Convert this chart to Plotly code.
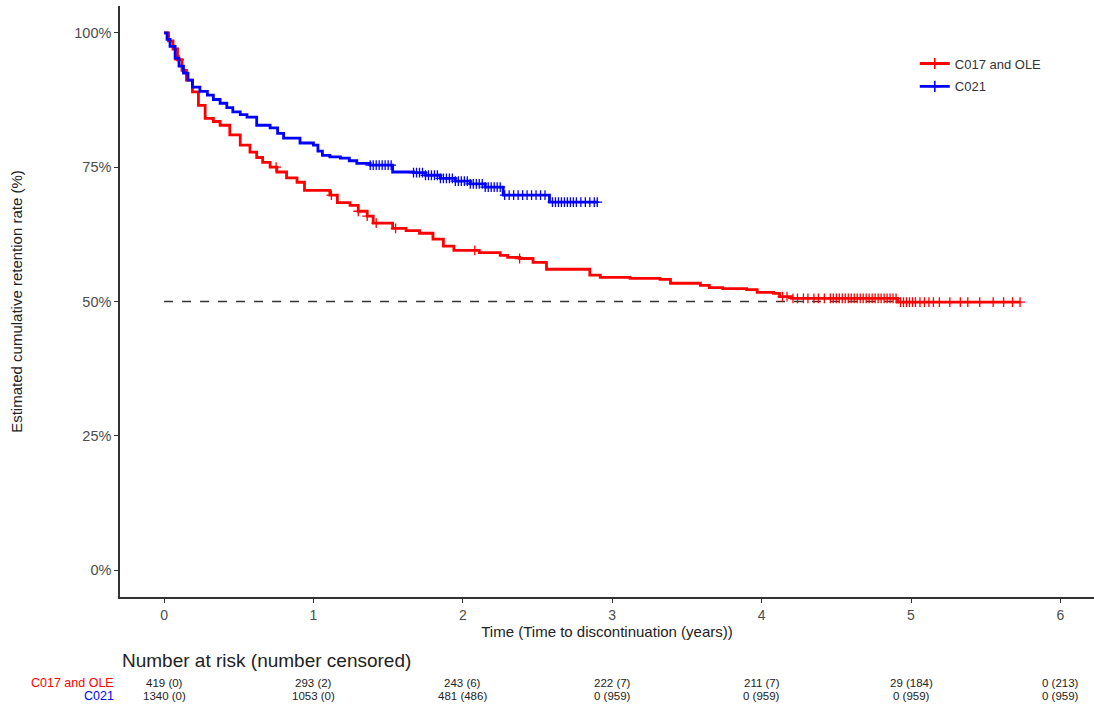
import plotly.graph_objects as go
import numpy as np

# ---------------- data ----------------
red_name = "C017 and OLE"
blue_name = "C021"

red_t = [0, 0.03, 0.06, 0.09, 0.12, 0.15, 0.19, 0.23, 0.275, 0.33, 0.375, 0.44, 0.51, 0.575,
         0.62, 0.66, 0.71, 0.755, 0.82, 0.89, 0.94, 1.11, 1.16, 1.245, 1.30, 1.36, 1.40, 1.53,
         1.62, 1.71, 1.80, 1.87, 1.94, 2.11, 2.25, 2.30, 2.38, 2.47, 2.56, 2.85, 2.92, 3.12,
         3.32, 3.39, 3.59, 3.65, 3.74, 3.90, 3.97, 4.08, 4.12, 4.20, 4.91, 5.73]
red_s = [100, 98.5, 97.0, 95.0, 93.0, 91.2, 89.0, 86.5, 84.1, 83.5, 82.8, 81.0, 79.1, 77.8,
         76.8, 75.9, 75.0, 74.1, 73.0, 72.2, 70.7, 69.8, 68.4, 67.9, 66.8, 65.9, 64.6, 63.6,
         63.2, 62.7, 61.6, 60.3, 59.5, 59.1, 58.6, 58.2, 58.0, 57.3, 56.0, 54.9, 54.5, 54.3,
         54.1, 53.4, 53.0, 52.6, 52.4, 52.2, 51.7, 51.5, 50.9, 50.6, 49.9, 49.9]

blue_t = [0, 0.02, 0.04, 0.074, 0.10, 0.13, 0.16, 0.19, 0.24, 0.29, 0.33, 0.375, 0.42, 0.46,
          0.51, 0.555, 0.62, 0.71, 0.76, 0.80, 0.91, 1.0, 1.03, 1.06, 1.11, 1.18, 1.24, 1.29,
          1.38, 1.53, 1.67, 1.75, 1.85, 1.95, 2.05, 2.15, 2.27, 2.58, 2.90]
blue_s = [100, 98.8, 97.5, 95.3, 93.8, 92.5, 91.2, 89.9, 89.1, 88.4, 87.6, 86.9, 86.1, 85.3,
          84.8, 84.3, 82.8, 82.3, 81.3, 80.4, 79.5, 79.1, 78.0, 77.2, 76.9, 76.7, 76.2, 75.7,
          75.4, 74.1, 74.0, 73.5, 72.9, 72.4, 71.9, 71.3, 69.8, 68.5, 68.5]

red_censor = [0.10, 0.75, 1.12, 1.30, 1.36, 1.42, 1.55, 2.08, 2.38,
              4.14, 4.17, 4.21, 4.24, 4.28, 4.31, 4.35, 4.38, 4.42, 4.46, 4.48, 4.50, 4.52,
              4.54, 4.56, 4.58, 4.60, 4.62, 4.64, 4.66, 4.68, 4.70, 4.72, 4.74, 4.76, 4.78,
              4.80, 4.82, 4.84, 4.86, 4.88, 4.90, 4.93, 4.95, 4.97, 4.99, 5.01, 5.03, 5.06,
              5.09, 5.12, 5.15, 5.19, 5.26, 5.33, 5.38, 5.46, 5.55, 5.62, 5.68, 5.73]
blue_censor = [1.38, 1.40, 1.42, 1.44, 1.46, 1.48, 1.50, 1.52, 1.67, 1.69, 1.71, 1.73,
               1.75, 1.77, 1.79, 1.81, 1.83, 1.85, 1.87, 1.89, 1.91, 1.93, 1.95, 1.97,
               1.99, 2.01, 2.03, 2.05, 2.07, 2.09, 2.11, 2.13, 2.15, 2.17, 2.19, 2.21,
               2.23, 2.25, 2.28, 2.31, 2.34, 2.37, 2.40, 2.43, 2.46, 2.49, 2.52, 2.55,
               2.60, 2.62, 2.64, 2.66, 2.68, 2.70, 2.72, 2.74, 2.76, 2.79, 2.82, 2.85,
               2.88, 2.90]

median_line_x = [0, 4.91]
median_line_y = [50, 50]

risk_times = [0, 1, 2, 3, 4, 5, 6]
risk_red = ["419 (0)", "293 (2)", "243 (6)", "222 (7)", "211 (7)", "29 (184)", "0 (213)"]
risk_blue = ["1340 (0)", "1053 (0)", "481 (486)", "0 (959)", "0 (959)", "0 (959)", "0 (959)"]

y_ticks = [0, 25, 50, 75, 100]
x_ticks = [0, 1, 2, 3, 4, 5, 6]

RED = "#FF0000"
BLUE = "#0000FF"
FONT = "Liberation Sans, Arial, sans-serif"
NARROW = "Liberation Sans Narrow, Liberation Sans, Arial, sans-serif"


def step_value(ts, ss, x):
    idx = np.searchsorted(np.array(ts), np.array(x), side="right") - 1
    return [ss[i] for i in idx]


fig = go.Figure()

fig.add_trace(go.Scatter(x=median_line_x, y=median_line_y, mode="lines",
                         line=dict(color="#333333", width=1.6, dash="dash"),
                         showlegend=False, hoverinfo="skip"))

for name, ts, ss, cens, col in [(red_name, red_t, red_s, red_censor, RED),
                                (blue_name, blue_t, blue_s, blue_censor, BLUE)]:
    fig.add_trace(go.Scatter(x=ts, y=ss, mode="lines", line=dict(color=col, width=2.8, shape="hv"),
                             showlegend=False, name=name))
    fig.add_trace(go.Scatter(x=cens, y=step_value(ts, ss, cens), mode="markers",
                             marker=dict(symbol="cross-thin", size=7, line=dict(color=col, width=1.3)),
                             showlegend=False, name=name))
    fig.add_trace(go.Scatter(x=[None], y=[None], mode="lines+markers", name=name, legendgroup=name,
                             line=dict(color=col, width=2.8),
                             marker=dict(symbol="cross-thin", size=8, line=dict(color=col, width=1.6))))

# at-risk table
H = 591.0
def py(p):
    return (597 - p) / H

fig.add_annotation(text="Number at risk (number censored)", xref="paper", yref="paper",
                   x=0, y=py(660), xanchor="left", yanchor="middle", showarrow=False,
                   font=dict(family=FONT, size=19, color="#222222"))
for t, r, b in zip(risk_times, risk_red, risk_blue):
    fig.add_annotation(text=r, xref="x", yref="paper", x=t, y=py(683), showarrow=False,
                       xanchor="center", yanchor="middle", font=dict(family=NARROW, size=11.5, color="#222222"))
    fig.add_annotation(text=b, xref="x", yref="paper", x=t, y=py(696), showarrow=False,
                       xanchor="center", yanchor="middle", font=dict(family=NARROW, size=11.5, color="#222222"))
fig.add_annotation(text=red_name, xref="paper", yref="paper", x=-0.004, y=py(683), showarrow=False,
                   xanchor="right", yanchor="middle", font=dict(family=FONT, size=12.5, color=RED))
fig.add_annotation(text=blue_name, xref="paper", yref="paper", x=-0.004, y=py(696), showarrow=False,
                   xanchor="right", yanchor="middle", font=dict(family=FONT, size=12.5, color=BLUE))

fig.update_layout(
    width=1094, height=704,
    margin=dict(l=120, r=0, t=6, b=107),
    paper_bgcolor="white", plot_bgcolor="white",
    font=dict(family=FONT, size=14, color="#4D4D4D"),
    legend=dict(x=0.816, y=0.928, xanchor="left", yanchor="top", bgcolor="rgba(0,0,0,0)",
                font=dict(family=FONT, size=13, color="#333333"), itemwidth=30,
                tracegroupgap=3),
    xaxis=dict(range=[-0.295, 6.225], tickvals=x_ticks, ticktext=[str(v) for v in x_ticks],
               showgrid=False, zeroline=False, showline=True, linecolor="#333333", linewidth=1.5,
               ticks="outside", ticklen=4, tickcolor="#333333", tickwidth=1.2,
               tickfont=dict(size=14, color="#4D4D4D"),
               title=dict(text="Time (Time to discontinuation (years))", standoff=4,
                          font=dict(size=15, color="#222222"))),
    yaxis=dict(range=[-5, 105], tickvals=y_ticks, ticktext=[f"{v}%" for v in y_ticks],
               showgrid=False, zeroline=False, showline=True, linecolor="#333333", linewidth=1.5,
               ticks="outside", ticklen=4, tickcolor="#333333", tickwidth=1.2,
               tickfont=dict(size=14.5, color="#4D4D4D"),
               title=dict(text="Estimated cumulative retention rate (%)", standoff=48,
                          font=dict(size=15, color="#222222"))),
)

fig.write_html("out.html")
